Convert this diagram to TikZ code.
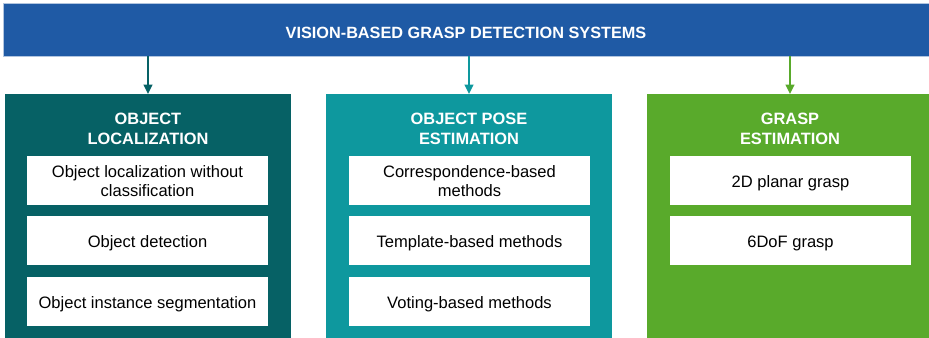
\documentclass[tikz,border=0pt]{standalone}
\usepackage{fontspec}
\setmainfont{Liberation Sans}
\usetikzlibrary{arrows.meta,positioning}

\definecolor{barblue}{HTML}{1F5AA5}
\definecolor{darkteal}{HTML}{066165}
\definecolor{midteal}{HTML}{0E989E}
\definecolor{grassgreen}{HTML}{59AA2B}

\begin{document}
\begin{tikzpicture}[
  x=0.75pt, y=-0.75pt,
  bar/.style={fill=barblue, draw=barblue!35!white, line width=0.6pt, text=white,
              minimum width=694.5pt, minimum height=39.75pt, inner sep=0pt,
              text height=13.2pt, text depth=0pt,
              font=\fontsize{12.2}{14}\selectfont\bfseries},
  panel/.style={minimum width=214.5pt, minimum height=183pt, inner sep=0pt, anchor=north},
  head/.style={text=white, align=center, font=\fontsize{12.3}{15}\selectfont\bfseries},
  item/.style={fill=white, minimum width=180.75pt, minimum height=36.75pt, inner sep=0pt,
               align=center, font=\fontsize{12.4}{14.25}\selectfont},
  oneline/.style={item, text height=10.4pt, text depth=0pt},
  arrow/.style={-{Triangle[length=7pt,width=6.5pt]}, line width=1.6pt},
]
\useasboundingbox (0,0) rectangle (929,338);

% --- Top bar ---
\node[bar] (top) at (466,29.5) {VISION-BASED GRASP DETECTION SYSTEMS};

% --- Panels ---
\node[panel, fill=darkteal] (loc) at (148,94) {};
\node[panel, fill=midteal] (pose) at (469,94) {};
\node[panel, fill=grassgreen, minimum width=212.25pt] (grasp) at (788,94) {};

\node[head] (lochead) at (148,129) {OBJECT\\LOCALIZATION};
\node[head] (posehead) at (469,129) {OBJECT POSE\\ESTIMATION};
\node[head] (grasphead) at (790,129) {GRASP\\ESTIMATION};

% --- Object localization ---
\node[item] (l1) at (147.5,181) {Object localization without\\classification};
\node[oneline] (l2) at (147.5,240.5) {Object detection};
\node[oneline] (l3) at (147.5,301.5) {Object instance segmentation};

% --- Object pose estimation ---
\node[item] (p1) at (469.5,181) {Correspondence-based\\methods};
\node[oneline] (p2) at (469.5,240.5) {Template-based methods};
\node[oneline] (p3) at (469.5,301.5) {Voting-based methods};

% --- Grasp estimation ---
\node[oneline] (g1) at (790.5,180.5) {2D planar grasp};
\node[oneline] (g2) at (790.5,240.5) {6DoF grasp};

% --- Arrows ---
\draw[arrow, darkteal] (top.south -| loc.north) -- (loc.north);
\draw[arrow, midteal] (top.south -| pose.north) -- (pose.north);
\draw[arrow, grassgreen] (top.south -| grasphead) -- (grasphead |- grasp.north);
\end{tikzpicture}
\end{document}
